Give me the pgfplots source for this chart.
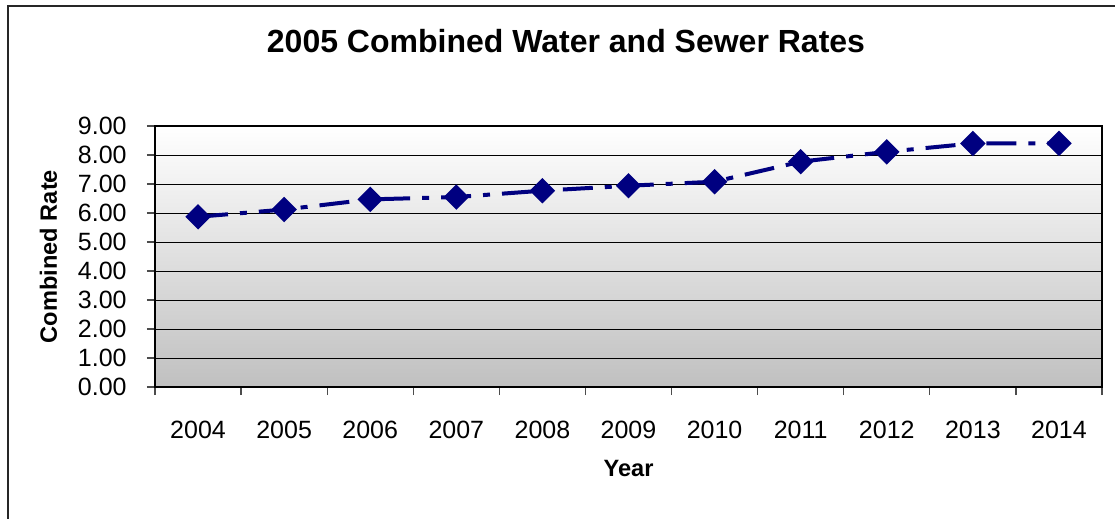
\documentclass[border=0pt]{standalone}
\usepackage{fontspec}
\setmainfont{Liberation Sans}
\usepackage{pgfplots}
\pgfplotsset{compat=1.18}
\definecolor{navyx}{RGB}{0,0,128}
\definecolor{bggray}{RGB}{192,192,192}
\begin{document}
\begin{tikzpicture}
\path[use as bounding box] (0,0) rectangle (557.5pt,-259.5pt);
\fill[white] (0,0) rectangle (557.5pt,-259.5pt);
\draw[line width=1pt, black!85] (4pt,-259.5pt) -- (4pt,-3pt) -- (557.5pt,-3pt);
\node[anchor=base, font=\fontsize{16}{19}\selectfont\bfseries] at (283pt,-26.5pt) {2005 Combined Water and Sewer Rates};
\begin{axis}[
  at={(77.5pt,-193.5pt)}, anchor=south west,
  scale only axis, width=473.5pt, height=130.5pt,
  xmin=-0.5, xmax=10.5, ymin=0, ymax=9,
  xtick={0,...,10},
  xticklabels={2004,2005,2006,2007,2008,2009,2010,2011,2012,2013,2014},
  minor xtick={-0.5,0.5,...,10.5},
  major x tick style={draw=none},
  ytick={0,1,...,9},
  xtick pos=bottom, ytick pos=left,
  tick align=outside,
  major tick length=4pt, minor tick length=4pt,
  tick style={black!70, line width=0.6pt},
  ymajorgrids=true,
  grid style={black, line width=0.5pt},
  axis line style={black, line width=1pt},
  axis background/.style={top color=white, bottom color=bggray},
  /pgf/number format/assume math mode=true,
  yticklabel={\pgfmathprintnumber[fixed, fixed zerofill, precision=2]{\tick}},
  tick label style={font=\fontsize{12.5}{15}\selectfont},
  yticklabel style={anchor=east, inner sep=0pt, xshift=-10pt},
  xticklabel style={anchor=north, inner sep=0pt, yshift=-13pt},
  xlabel={Year}, ylabel={Combined Rate},
  label style={font=\fontsize{11.8}{14}\selectfont\bfseries},
  xlabel style={at={(axis description cs:0.5,-0.3448)}, anchor=base},
  ylabel style={at={(axis description cs:-0.1035,0.5)}, anchor=base},
  clip=false,
]
\addplot[navyx, line width=2pt, dash pattern=on 15pt off 6pt on 3.5pt off 6pt,
  mark=square*, mark size=3.5pt, mark options={rotate=45, solid, fill=navyx}]
  coordinates {(0,5.87) (1,6.12) (2,6.47) (3,6.55) (4,6.77) (5,6.94) (6,7.08) (7,7.77) (8,8.11) (9,8.40) (10,8.40)};
\end{axis}
\end{tikzpicture}
\end{document}
